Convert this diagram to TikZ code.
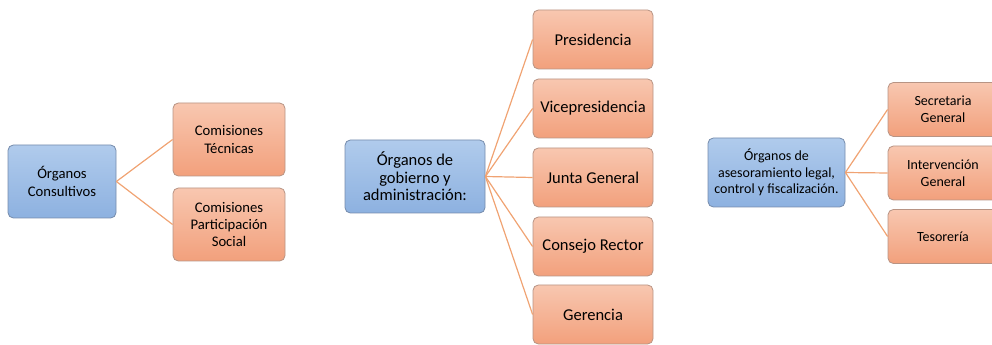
\documentclass[tikz,border=0pt]{standalone}
\usepackage{fontspec}
\setmainfont{Carlito}
\definecolor{azulA}{RGB}{176,203,236}
\definecolor{azulB}{RGB}{141,177,224}
\definecolor{azulBorde}{RGB}{118,140,172}
\definecolor{naranjaA}{RGB}{248,199,176}
\definecolor{naranjaB}{RGB}{242,160,124}
\definecolor{naranjaBorde}{RGB}{184,148,132}
\definecolor{linea}{RGB}{240,163,115}
\begin{document}
\begin{tikzpicture}[x=0.75pt,y=0.75pt,yscale=-1,xscale=1,
  organo/.style={draw=azulBorde,line width=0.6pt,rounded corners=4pt,top color=azulA,bottom color=azulB,align=center,inner sep=2pt},
  cargo/.style={draw=naranjaBorde,line width=0.6pt,rounded corners=4pt,top color=naranjaA,bottom color=naranjaB,align=center,inner sep=2pt},
  rama/.style={draw=linea,line width=0.9pt}]
\useasboundingbox (0,0) rectangle (992,345);

% Left group
\node [organo,minimum width=81pt,minimum height=54.75pt,font=\fontsize{11}{13}\selectfont] (consultivos) at (62,181.5) {Órganos\\Consultivos};
\node [cargo,minimum width=84pt,minimum height=54.75pt,font=\fontsize{11}{13}\selectfont] (tecnicas) at (229,139.5) {Comisiones\\Técnicas};
\node [cargo,minimum width=84pt,minimum height=54.75pt,font=\fontsize{11}{13}\selectfont] (participacion) at (229,224.5) {Comisiones\\Participación\\Social};
\draw [rama] (consultivos.east) -- (tecnicas.west);
\draw [rama] (consultivos.east) -- (participacion.west);

% Middle group
\node [organo,minimum width=105pt,minimum height=54.75pt,font=\fontsize{12.4}{13.2}\selectfont] (gobierno) at (415,176.5) {Órganos de\\gobierno y\\administración:};
\foreach \y/\nombre/\texto in {39.5/presidencia/Presidencia,108.5/vice/Vicepresidencia,177.5/junta/Junta General,246.5/consejo/Consejo Rector,314.5/gerencia/Gerencia}{
  \node [cargo,minimum width=90pt,minimum height=44.25pt,font=\fontsize{12.4}{14}\selectfont] (\nombre) at (593,\y) {\texto};
  \draw [rama] (gobierno.east) -- (\nombre.west);
}

% Right group
\node [organo,minimum width=102.75pt,minimum height=51.75pt,font=\fontsize{10.5}{12.4}\selectfont] (asesoramiento) at (776.5,172.5) {Órganos de\\asesoramiento legal,\\control y fiscalización.};
\node [cargo,minimum width=82.5pt,minimum height=40.5pt,font=\fontsize{10.5}{12.4}\selectfont] (secretaria) at (943,109.5) {Secretaria\\General};
\node [cargo,minimum width=82.5pt,minimum height=40.5pt,font=\fontsize{10.5}{12.4}\selectfont] (intervencion) at (943,173) {Intervención\\General};
\node [cargo,minimum width=82.5pt,minimum height=40.5pt,font=\fontsize{10.5}{12.4}\selectfont] (tesoreria) at (943,236.5) {Tesorería};
\draw [rama] (asesoramiento.east) -- (secretaria.west);
\draw [rama] (asesoramiento.east) -- (intervencion.west);
\draw [rama] (asesoramiento.east) -- (tesoreria.west);
\end{tikzpicture}
\end{document}
